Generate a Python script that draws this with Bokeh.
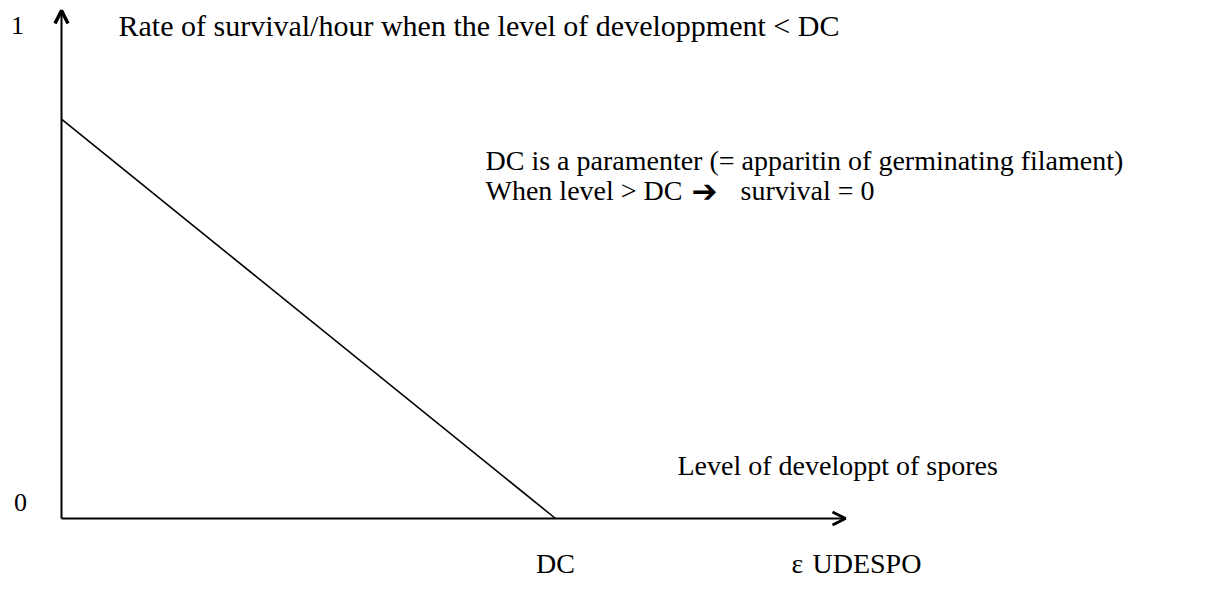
from bokeh.plotting import figure
from bokeh.models import Arrow, OpenHead, Range1d
from bokeh.core.properties import value
from bokeh.embed import file_html
from bokeh.resources import INLINE

# Data (x: level of development, DC = 1; y: survival rate)
line_x = [0.0, 1.0]
line_y = [0.81, 0.0]
y_tick_labels = ["1", "0"]
y_tick_vals = [1.0, 0.0]
x_label_dc = "DC"
title_text = "Rate of survival/hour when the level of developpment < DC"
note_line1 = "DC is a paramenter (= apparitin of germinating filament)"
note_line2a = "When level > DC"
note_arrow = "\u2794"
note_line2b = "survival = 0"
x_axis_text = "Level of developpt of spores"
udespo_sym = "\u03b5"
udespo_text = "UDESPO"

PX = 494.0  # pixels per x unit
PY = 493.0  # pixels per y unit
X0, Y0 = 61, 518  # origin position within plot

W, H = 1200, 584
p = figure(width=W, height=H, output_backend="svg", toolbar_location=None,
           x_range=Range1d(-X0 / PX, (W - X0) / PX),
           y_range=Range1d(-(H - Y0) / PY, Y0 / PY),
           min_border=0, border_fill_color="white", outline_line_color=None)
p.axis.visible = False
p.grid.visible = False

def fx(px):
    return (px - X0) / PX

def fy(py):
    return (Y0 - py) / PY

# axes as arrows
p.add_layout(Arrow(end=OpenHead(size=13, line_width=3.5, line_color="black"),
                   x_start=0, y_start=0, x_end=0, y_end=fy(10),
                   line_color="black", line_width=2))
p.add_layout(Arrow(end=OpenHead(size=13, line_width=3, line_color="black"),
                   x_start=0, y_start=0, x_end=fx(845), y_end=0,
                   line_color="black", line_width=2))

# the survival line
p.line(line_x, line_y, line_color="black", line_width=1.6)

font = value("Liberation Serif")
fs = "28px"

p.text(x=[fx(17), fx(20)], y=[fy(25), fy(502)], text=y_tick_labels,
       text_font=font, text_font_size="26px", text_align="center",
       text_baseline="middle", text_color="black")
p.text(x=[fx(118)], y=[fy(25)], text=[title_text], text_font=font,
       text_font_size="30px", text_align="left", text_baseline="middle")
p.text(x=[fx(485)], y=[fy(160)], text=[note_line1], text_font=font,
       text_font_size=fs, text_align="left", text_baseline="middle")
p.text(x=[fx(485)], y=[fy(190)], text=[note_line2a], text_font=font,
       text_font_size=fs, text_align="left", text_baseline="middle")
p.text(x=[fx(704)], y=[fy(190)], text=[note_arrow], text_font=value("DejaVu Sans"),
       text_font_size="31px", text_font_style="bold", text_align="center",
       text_baseline="middle")
p.text(x=[fx(740)], y=[fy(190)], text=[note_line2b], text_font=font,
       text_font_size=fs, text_align="left", text_baseline="middle")
p.text(x=[fx(677)], y=[fy(465)], text=[x_axis_text], text_font=font,
       text_font_size=fs, text_align="left", text_baseline="middle")
p.text(x=[1.0], y=[fy(563)], text=[x_label_dc], text_font=font,
       text_font_size=fs, text_align="center", text_baseline="middle")
p.text(x=[fx(797)], y=[fy(563)], text=[udespo_sym], text_font=font,
       text_font_size=fs, text_align="center", text_baseline="middle")
p.text(x=[fx(812)], y=[fy(563)], text=[udespo_text], text_font=font,
       text_font_size=fs, text_align="left", text_baseline="middle")

open("out.html", "w").write(file_html(p, INLINE))
